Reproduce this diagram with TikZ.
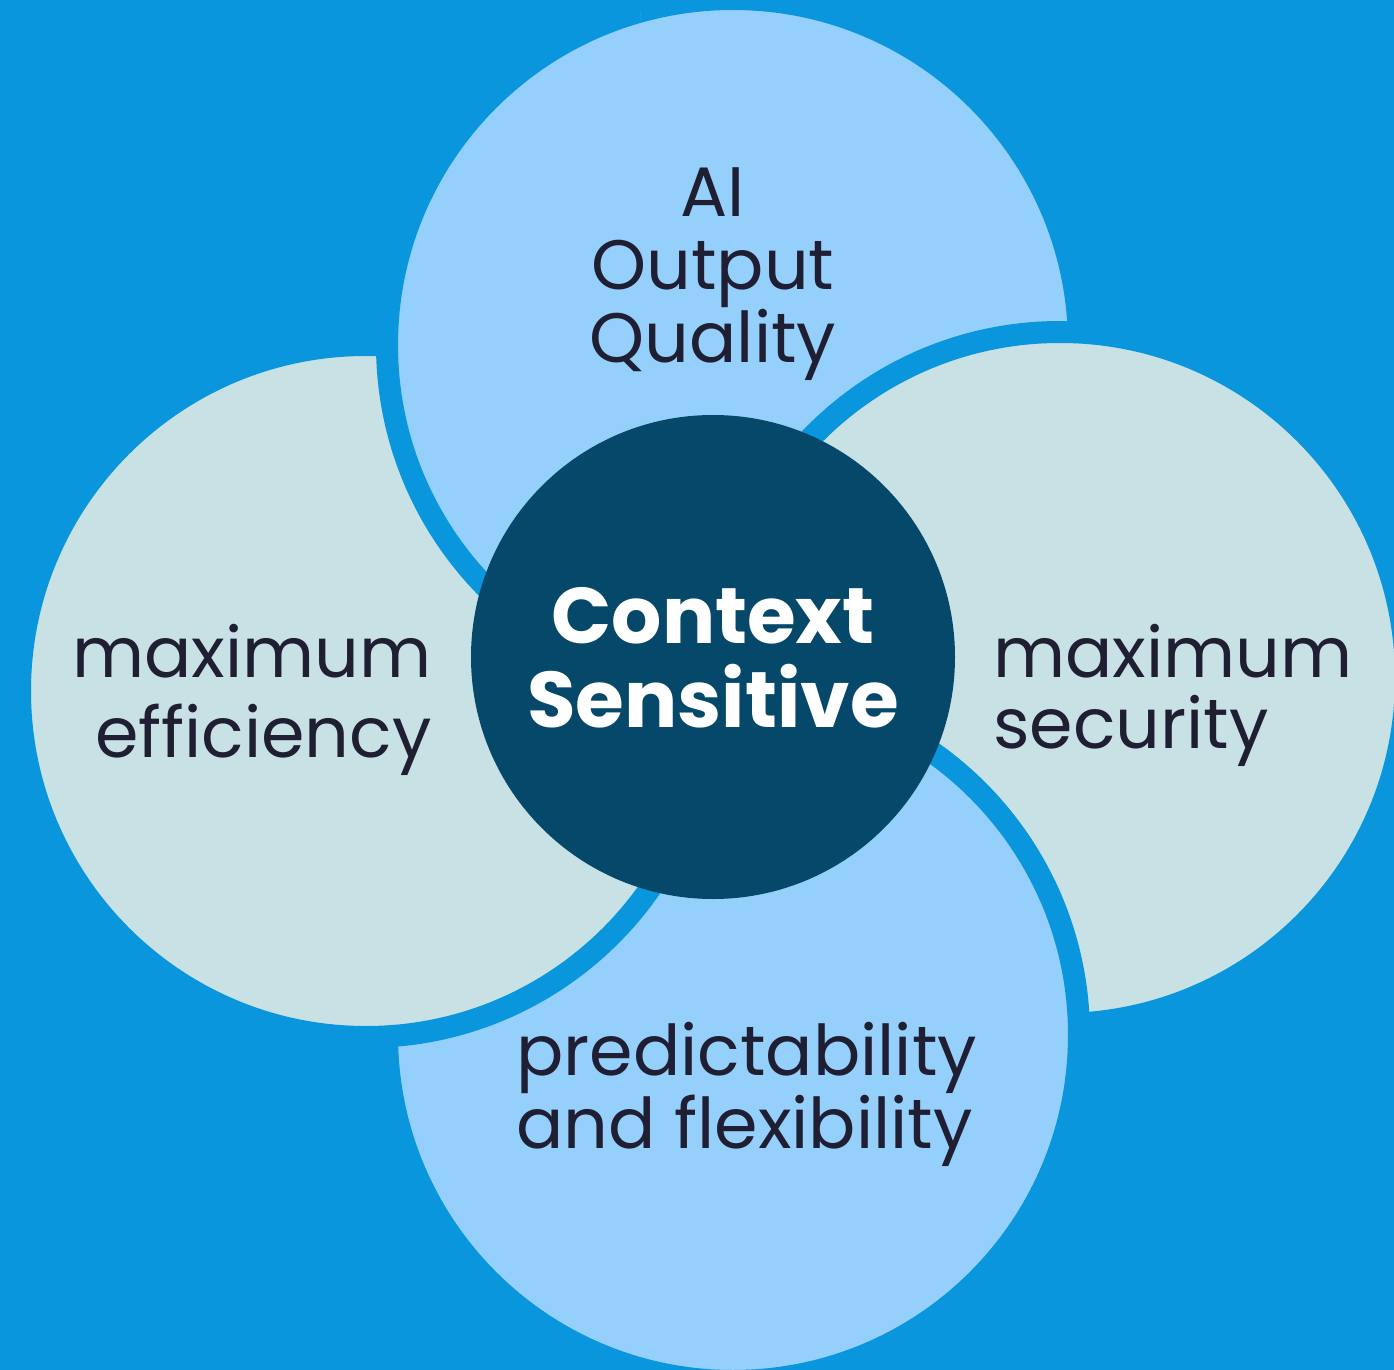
\documentclass[tikz,border=0pt]{standalone}
\usepackage{fontspec}
\setmainfont{Poppins}
\definecolor{bgblue}{HTML}{0996DD}
\definecolor{skyfill}{HTML}{94D0FB}
\definecolor{mistfill}{HTML}{C8E1E5}
\definecolor{corefill}{HTML}{05486A}
\definecolor{inkdark}{HTML}{1F1E32}
\tikzset{
  petal/.style={circle, draw=bgblue, line width=11pt, minimum size=346pt, inner sep=0pt},
  petaltext/.style={text=inkdark, inner sep=0pt, font=\fontsize{35}{36.5}\selectfont},
}
\begin{document}
\begin{tikzpicture}[x=0.5pt, y=-0.5pt]
  \fill[bgblue] (0,0) rectangle (1394,1370);
  \useasboundingbox (0,0) rectangle (1394,1370);
  \draw
    (733,345) node[petal, fill=skyfill] (quality) {}
    (1060,678) node[petal, fill=mistfill] (security) {}
    (733,1035) node[petal, fill=skyfill] (flex) {}
    (366,691) node[petal, fill=mistfill] (efficiency) {};
  % top petal once more, over the left one
  \begin{scope}
    \clip (0,0) rectangle (640,700);
    \node[petal, fill=skyfill] (qualityover) at (quality) {};
  \end{scope}
  \node[circle, fill=corefill, minimum size=242pt, inner sep=0pt] (context) at (713,657) {};
  % base anchor sits on the last line
  \begin{scope}[every node/.style={petaltext}]
    \node[anchor=base, align=center] (qualitytext) at (713,362) {AI\\Output\\Quality};
    \node[anchor=base west, align=left, font=\fontsize{35}{35.5}\selectfont] (securitytext) at (993,748) {maximum\\security};
    \node[anchor=base east, align=right, font=\fontsize{35}{40}\selectfont] (efficiencytext) at (432,757) {maximum\\efficiency};
    \node[anchor=base west, align=left] (flextext) at (516,1148) {predictability\\and flexibility};
  \end{scope}
  \node[anchor=base, align=center, inner sep=0pt, text=white,
    font=\fontsize{39.5}{42}\selectfont\bfseries] (contexttext) at (713,727) {Context\\Sensitive};
\end{tikzpicture}
\end{document}
